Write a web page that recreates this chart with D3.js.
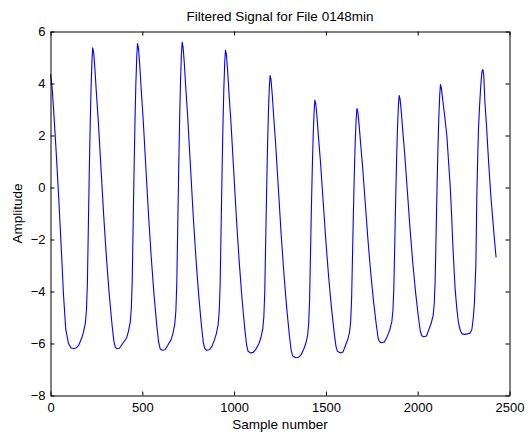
<!DOCTYPE html>
<html>
<head>
<meta charset="utf-8">
<script src="https://cdn.jsdelivr.net/npm/d3@7"></script>
<style>
  body { margin: 0; background: #fff; }
  svg { display: block; font-family: "Liberation Sans", Arial, Helvetica, sans-serif; }
  .axis path, .axis line { stroke: #000; }
  .axis text { font-size: 13px; fill: #000; }
</style>
</head>
<body>
<script>
// Chart values
const chartTitle = "Filtered Signal for File 0148min";
const xLabel = "Sample number";
const yLabel = "Amplitude";
const xTicks = [0, 500, 1000, 1500, 2000, 2500];
const yTicks = [-8, -6, -4, -2, 0, 2, 4, 6];

const sampleNumber = [
  0, 8, 16, 29, 44, 58, 71, 83, 98, 112,
  125, 140, 155, 170, 180, 190, 196, 201, 206, 211, 216, 221, 226, 230,
  235, 242, 250, 260, 275, 290, 305, 320, 335, 345, 353,
  361, 376, 391, 414, 424, 434, 440, 445, 450, 455, 460, 465, 470, 474,
  479, 486, 494, 504, 519, 534, 549, 564, 579, 589, 597,
  608, 623, 638, 657, 667, 677, 683, 688, 693, 698, 703, 708, 713, 717,
  722, 729, 737, 747, 762, 777, 792, 807, 822, 832, 840,
  850, 865, 880, 893, 903, 913, 919, 924, 929, 934, 939, 944, 949, 953,
  958, 965, 973, 983, 998, 1013, 1028, 1043, 1058, 1068, 1076,
  1089, 1104, 1119, 1136, 1146, 1156, 1162, 1167, 1172, 1177, 1182, 1187, 1192, 1196,
  1201, 1208, 1216, 1226, 1241, 1256, 1271, 1286, 1301, 1311, 1319,
  1336, 1351, 1366, 1380, 1390, 1400, 1406, 1411, 1416, 1421, 1426, 1431, 1436, 1440,
  1445, 1452, 1460, 1470, 1485, 1500, 1515, 1530, 1545, 1555, 1563,
  1578, 1593, 1609, 1619, 1629, 1635, 1640, 1645, 1650, 1655, 1660, 1665, 1669,
  1674, 1681, 1689, 1699, 1714, 1729, 1744, 1759, 1774, 1784, 1792,
  1803, 1818, 1831, 1839, 1849, 1859, 1865, 1870, 1875, 1880, 1885, 1890, 1895, 1899,
  1904, 1911, 1919, 1929, 1944, 1959, 1974, 1989, 2004, 2014, 2022,
  2033, 2048, 2064, 2074, 2084, 2090, 2095, 2100, 2105, 2110, 2115, 2120, 2124,
  2129, 2135, 2147, 2159, 2168, 2177, 2184, 2190, 2197, 2204, 2213, 2222, 2232, 2242,
  2255, 2270, 2285, 2295, 2303, 2309, 2313, 2317, 2322, 2327, 2331, 2337, 2342, 2346, 2350, 2355,
  2360, 2366, 2375, 2386, 2398, 2408, 2418, 2427
];

const amplitude = [
  4.35, 3.9, 3.1, 1.6, -0.3, -2.25, -4.15, -5.45, -6.0, -6.17,
  -6.19, -6.17, -6.05, -5.79, -5.55, -5.21, -4.69, -3.65, -1.57, 0.52, 2.36, 3.87, 4.91, 5.37,
  5.20, 4.56, 3.63, 2.59, 0.74, -1.11, -2.73, -4.12, -5.27, -5.90, -6.15,
  -6.20, -6.18, -6.02, -5.79, -5.55, -5.20, -4.67, -3.62, -1.50, 0.61, 2.49, 4.01, 5.07, 5.54,
  5.36, 4.71, 3.77, 2.71, 0.82, -1.07, -2.72, -4.14, -5.32, -5.95, -6.20,
  -6.26, -6.24, -6.08, -5.85, -5.61, -5.25, -4.72, -3.65, -1.52, 0.61, 2.51, 4.05, 5.12, 5.59,
  5.41, 4.76, 3.81, 2.75, 0.85, -1.05, -2.71, -4.13, -5.31, -5.95, -6.20,
  -6.26, -6.24, -6.10, -5.86, -5.63, -5.28, -4.76, -3.72, -1.64, 0.43, 2.28, 3.78, 4.82, 5.28,
  5.11, 4.47, 3.53, 2.49, 0.62, -1.24, -2.87, -4.27, -5.43, -6.05, -6.30,
  -6.36, -6.34, -6.22, -5.99, -5.77, -5.45, -4.97, -4.01, -2.09, -0.17, 1.54, 2.92, 3.88, 4.31,
  4.15, 3.55, 2.68, 1.70, -0.03, -1.77, -3.29, -4.60, -5.68, -6.27, -6.48,
  -6.55, -6.53, -6.42, -6.20, -6.01, -5.71, -5.26, -4.37, -2.59, -0.80, 0.78, 2.07, 2.96, 3.36,
  3.21, 2.68, 1.90, 1.03, -0.53, -2.08, -3.44, -4.61, -5.58, -6.12, -6.30,
  -6.36, -6.33, -6.03, -5.84, -5.56, -5.14, -4.29, -2.60, -0.91, 0.60, 1.82, 2.66, 3.04,
  2.91, 2.41, 1.69, 0.88, -0.56, -2.01, -3.27, -4.35, -5.25, -5.78, -5.93,
  -5.97, -5.94, -5.78, -5.64, -5.45, -5.16, -4.73, -3.88, -2.17, -0.45, 1.07, 2.30, 3.16, 3.54,
  3.40, 2.89, 2.15, 1.31, -0.17, -1.66, -2.96, -4.07, -5.00, -5.52, -5.70,
  -5.74, -5.71, -5.40, -5.21, -4.92, -4.48, -3.61, -1.86, -0.11, 1.44, 2.70, 3.57, 3.96,
  3.82, 3.45, 2.75, 1.97, 1.0, 0.05, -0.95, -2.0, -3.0, -3.92, -4.65, -5.2, -5.5, -5.63,
  -5.65, -5.63, -5.6, -5.46, -5.0, -4.43, -3.7, -2.9, -0.33, 1.2, 2.23, 3.13, 3.75, 4.15, 4.45, 4.54,
  4.3, 3.3, 2.35, 1.0, -0.3, -1.15, -2.0, -2.69
];

// Layout
const width = 528;
const height = 434;
const margin = { top: 31.5, right: 18.5, bottom: 38.5, left: 50.5 };
const plotW = width - margin.left - margin.right;
const plotH = height - margin.top - margin.bottom;

const svg = d3.select("body")
    .append("svg")
    .attr("width", width)
    .attr("height", height);

svg.append("rect")
    .attr("width", width)
    .attr("height", height)
    .attr("fill", "#fff");

const g = svg.append("g")
    .attr("transform", `translate(${margin.left},${margin.top})`);

const x = d3.scaleLinear().domain([0, 2500]).range([0, plotW]);
const y = d3.scaleLinear().domain([-8, 6]).range([plotH, 0]);

// Signal line
const line = d3.line()
    .x(d => x(d[0]))
    .y(d => y(d[1]));

const points = sampleNumber.map((s, i) => [s, amplitude[i]]);

g.append("path")
    .datum(points)
    .attr("fill", "none")
    .attr("stroke", "#0000ff")
    .attr("stroke-width", 1.1)
    .attr("stroke-linejoin", "round")
    .attr("d", line);

// Axes, MATLAB style: ticks pointing inward on all four sides
const fmt = d3.format("d");

g.append("g")
    .attr("class", "axis")
    .attr("transform", `translate(0,${plotH})`)
    .call(d3.axisBottom(x).tickValues(xTicks).tickFormat(fmt)
        .tickSizeInner(-4).tickSizeOuter(0).tickPadding(7));

g.append("g")
    .attr("class", "axis")
    .call(d3.axisTop(x).tickValues(xTicks).tickSizeInner(-4).tickSizeOuter(0).tickFormat(""));

g.append("g")
    .attr("class", "axis")
    .call(d3.axisLeft(y).tickValues(yTicks).tickFormat(fmt)
        .tickSizeInner(-4).tickSizeOuter(0).tickPadding(5));

g.append("g")
    .attr("class", "axis")
    .attr("transform", `translate(${plotW},0)`)
    .call(d3.axisRight(y).tickValues(yTicks).tickSizeInner(-4).tickSizeOuter(0).tickFormat(""));

// Text
svg.append("text")
    .attr("x", margin.left + plotW / 2)
    .attr("y", 21)
    .attr("text-anchor", "middle")
    .attr("font-size", 13.5)
    .text(chartTitle);

svg.append("text")
    .attr("x", margin.left + plotW / 2)
    .attr("y", 429)
    .attr("text-anchor", "middle")
    .attr("font-size", 13.5)
    .text(xLabel);

svg.append("text")
    .attr("transform", `translate(22,${margin.top + plotH / 2}) rotate(-90)`)
    .attr("text-anchor", "middle")
    .attr("font-size", 13.5)
    .text(yLabel);
</script>
</body>
</html>
